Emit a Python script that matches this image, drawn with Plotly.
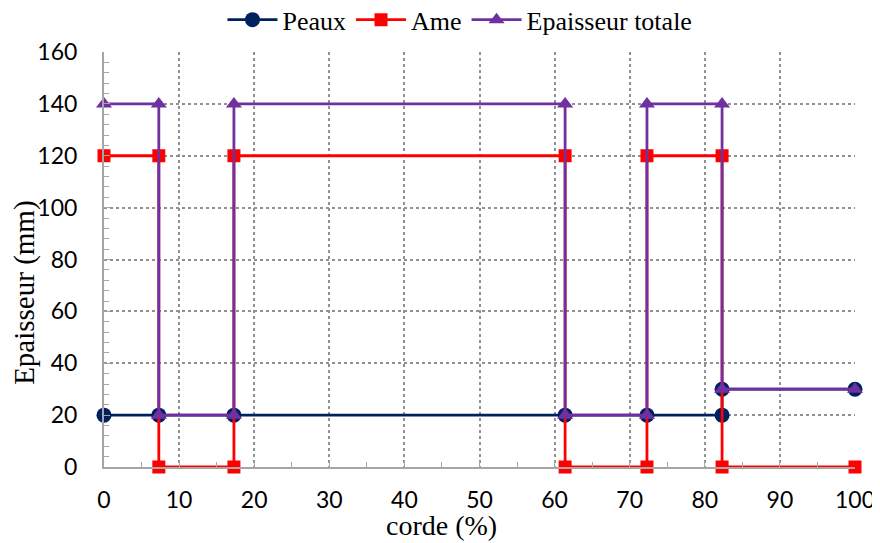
import plotly.graph_objects as go

# corde positions (%) and thicknesses (mm)
peaux_x = [0, 7.3, 17.3, 61.4, 72.3, 82.3, 82.3, 100]
peaux_y = [20, 20, 20, 20, 20, 20, 30, 30]

ame_x = [0, 7.3, 7.3, 17.3, 17.3, 61.4, 61.4, 72.3, 72.3, 82.3, 82.3, 100]
ame_y = [120, 120, 0, 0, 120, 120, 0, 0, 120, 120, 0, 0]

tot_x = [0, 7.3, 7.3, 17.3, 17.3, 61.4, 61.4, 72.3, 72.3, 82.3, 82.3, 100]
tot_y = [140, 140, 20, 20, 140, 140, 20, 20, 140, 140, 30, 30]

fig = go.Figure()

fig.add_trace(go.Scatter(x=peaux_x, y=peaux_y, mode='lines+markers', name='Peaux',
    line=dict(color='#002060', width=2.8),
    marker=dict(symbol='circle', size=15, color='#002060'),
    cliponaxis=False))

fig.add_trace(go.Scatter(x=ame_x, y=ame_y, mode='lines+markers', name='Ame',
    line=dict(color='#FF0000', width=2.8),
    marker=dict(symbol='square', size=13, color='#FF0000'),
    cliponaxis=False))

fig.add_trace(go.Scatter(x=tot_x, y=tot_y, mode='lines+markers', name='Epaisseur totale',
    line=dict(color='#7030A0', width=2.8),
    marker=dict(symbol='triangle-up', size=14, color='#7030A0'),
    cliponaxis=False))

serif = dict(family='Liberation Serif', color='black')

# page body adds an 8px margin, so the figure is 8px smaller than the window
fig.update_layout(
    width=872, height=535,
    margin=dict(l=96, r=25, t=44, b=76),
    plot_bgcolor='white', paper_bgcolor='white',
    showlegend=True,
    legend=dict(orientation='h', x=0.474, xanchor='center',
                yref='container', y=0.978, yanchor='middle',
                font=dict(size=26, **serif), itemwidth=50, tracegroupgap=0),
    xaxis=dict(
        range=[0, 100], dtick=10, tick0=0, automargin=False,
        showgrid=True, gridcolor='#909090', griddash='dot', gridwidth=1.5,
        showline=True, linecolor='#a6a6a6', linewidth=2,
        zeroline=False,
        ticks='inside', ticklen=6, tickcolor='#a6a6a6',
        minor=dict(dtick=5, ticks='inside', ticklen=5, tickcolor='#a6a6a6', showgrid=False),
        ticklabelstandoff=11,
        tickfont=dict(family='Lato', size=23, color='black')),
    yaxis=dict(
        range=[0, 160], dtick=20, tick0=0, automargin=False,
        showgrid=True, gridcolor='#909090', griddash='dot', gridwidth=1.5,
        showline=True, linecolor='#a6a6a6', linewidth=2,
        zeroline=False,
        ticks='inside', ticklen=6, tickcolor='#a6a6a6',
        minor=dict(dtick=4, ticks='inside', ticklen=5, tickcolor='#a6a6a6', showgrid=False),
        ticklabelstandoff=20,
        tickfont=dict(family='Lato', size=23, color='black')),
    annotations=[
        dict(text='corde (%)', xref='paper', yref='paper', x=0.45, y=-0.14,
             xanchor='center', yanchor='middle', showarrow=False, font=dict(size=28, **serif)),
        dict(text='Epaisseur (mm)', xref='paper', yref='paper', x=-0.105, y=0.42,
             xanchor='center', yanchor='middle', textangle=-90, showarrow=False,
             font=dict(size=29, **serif)),
    ],
)

fig.write_html("out.html")
